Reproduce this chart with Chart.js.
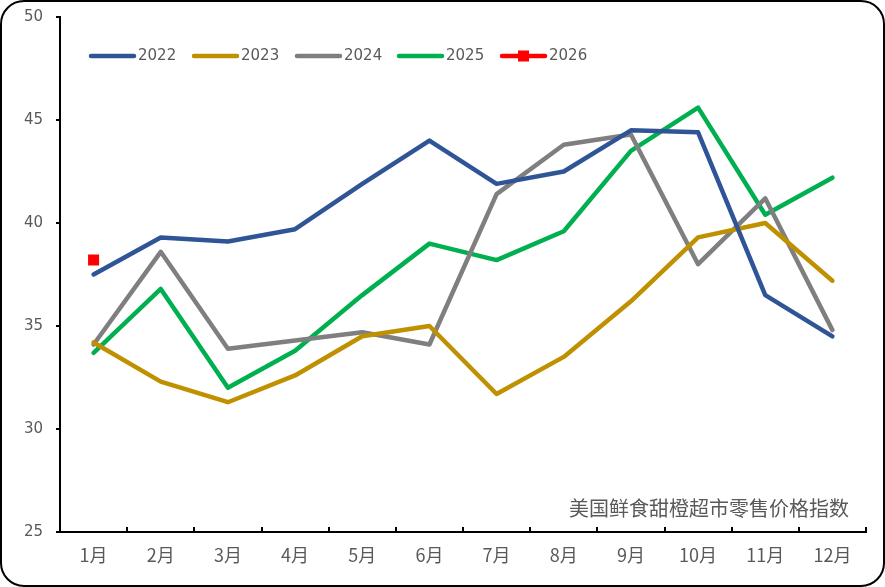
<!DOCTYPE html>
<html>
<head>
<meta charset="utf-8">
<script src="https://cdn.jsdelivr.net/npm/chart.js@4.4.1/dist/chart.umd.min.js"></script>
<style>
  html, body { margin: 0; padding: 0; background: #fff; }
  #frame {
    position: absolute; left: 0; top: 0; width: 885px; height: 587px;
    box-sizing: border-box; border: 2px solid #000; border-radius: 24px;
  }
  #wrap { position: absolute; left: 0; top: 0; width: 885px; height: 587px; }
</style>
</head>
<body>
<div id="frame"></div>
<div id="wrap"><canvas id="priceChart"></canvas></div>
<script>
const months = ["1月", "2月", "3月", "4月", "5月", "6月", "7月", "8月", "9月", "10月", "11月", "12月"];
const data2022 = [37.5, 39.3, 39.1, 39.7, 41.9, 44.0, 41.9, 42.5, 44.5, 44.4, 36.5, 34.5];
const data2023 = [34.2, 32.3, 31.3, 32.6, 34.5, 35.0, 31.7, 33.5, 36.2, 39.3, 40.0, 37.2];
const data2024 = [34.1, 38.6, 33.9, 34.3, 34.7, 34.1, 41.4, 43.8, 44.3, 38.0, 41.2, 34.8];
const data2025 = [33.7, 36.8, 32.0, 33.8, 36.5, 39.0, 38.2, 39.6, 43.5, 45.6, 40.4, 42.2];
const data2026 = [38.2];
const yTicks = [25, 30, 35, 40, 45, 50];
const noteText = "美国鲜食甜橙超市零售价格指数";

const textColor = "#595959";
const cjkFont = "'Noto Sans CJK SC', 'DejaVu Sans', sans-serif";

const series = [
  { label: "2022", data: data2022, color: "#2F5597" },
  { label: "2023", data: data2023, color: "#BF9000" },
  { label: "2024", data: data2024, color: "#7F7F7F" },
  { label: "2025", data: data2025, color: "#00B050" },
  { label: "2026", data: data2026, color: "#FF0000", marker: true },
];

// legend, inward x ticks and the note are drawn by hand
const extrasPlugin = {
  id: "extras",
  afterDraw: (chart) => {
    const ctx = chart.ctx;
    const area = chart.chartArea;
    const x = chart.scales.x;
    ctx.save();

    // x tick marks pointing up, at category boundaries
    ctx.strokeStyle = "#000";
    ctx.lineWidth = 2;
    for (let i = 1; i <= months.length; i++) {
      const px = Math.round(x.getPixelForValue(i - 0.5));
      ctx.beginPath();
      ctx.moveTo(px, area.bottom);
      ctx.lineTo(px, area.bottom - 5);
      ctx.stroke();
    }

    // legend
    ctx.font = "15px 'DejaVu Sans', sans-serif";
    ctx.textBaseline = "middle";
    const legendX = [91, 194, 297, 399, 502];
    const legendY = 56;
    series.forEach((s, i) => {
      const lx = legendX[i];
      ctx.strokeStyle = s.color;
      ctx.lineWidth = 4.5;
      ctx.lineCap = "round";
      ctx.beginPath();
      ctx.moveTo(lx, legendY);
      ctx.lineTo(lx + 43, legendY);
      ctx.stroke();
      if (s.marker) {
        ctx.fillStyle = s.color;
        ctx.fillRect(lx + 16, legendY - 5.5, 11, 11);
      }
      ctx.fillStyle = textColor;
      ctx.textAlign = "left";
      ctx.fillText(s.label, lx + 47, legendY);
    });

    // note text
    ctx.font = "20px " + cjkFont;
    ctx.fillStyle = textColor;
    ctx.textAlign = "right";
    ctx.fillText(noteText, 849, 508);
    ctx.restore();
  },
};

const ctx = document.getElementById("priceChart").getContext("2d");

new Chart(ctx, {
  type: "line",
  data: {
    labels: months,
    datasets: series.map((s) => ({
      label: s.label,
      data: s.data,
      borderColor: s.color,
      backgroundColor: s.color,
      borderWidth: 4.5,
      borderCapStyle: "round",
      borderJoinStyle: "round",
      tension: 0,
      pointRadius: s.marker ? 7.8 : 0,
      pointStyle: "rect",
      pointBorderWidth: 0,
      fill: false,
    })),
  },
  options: {
    responsive: true,
    maintainAspectRatio: false,
    animation: false,
    layout: { padding: { top: 17, right: 19, left: 0, bottom: 0 } },
    plugins: {
      legend: { display: false },
      tooltip: { enabled: false },
    },
    scales: {
      x: {
        offset: true,
        grid: { display: false, drawTicks: false },
        border: { display: true, color: "#000", width: 2 },
        ticks: {
          color: textColor,
          font: { size: 18, family: cjkFont },
          padding: 12,
          maxRotation: 0,
          autoSkip: false,
        },
        afterFit: (scale) => {
          scale.height = 55;
          scale.paddingLeft = 0;
          scale.paddingRight = 0;
        },
      },
      y: {
        min: 25,
        max: 50,
        afterBuildTicks: (scale) => { scale.ticks = yTicks.map((v) => ({ value: v })); },
        grid: { drawOnChartArea: false, drawTicks: true, tickLength: 4, color: "#000", lineWidth: 2 },
        border: { display: true, color: "#000", width: 2 },
        ticks: {
          color: textColor,
          font: { size: 15, family: "'DejaVu Sans', sans-serif" },
          padding: 13,
        },
        afterFit: (scale) => {
          scale.width = 60;
          scale.paddingTop = 0;
          scale.paddingBottom = 0;
        },
      },
    },
  },
  plugins: [extrasPlugin],
});
</script>
</body>
</html>
